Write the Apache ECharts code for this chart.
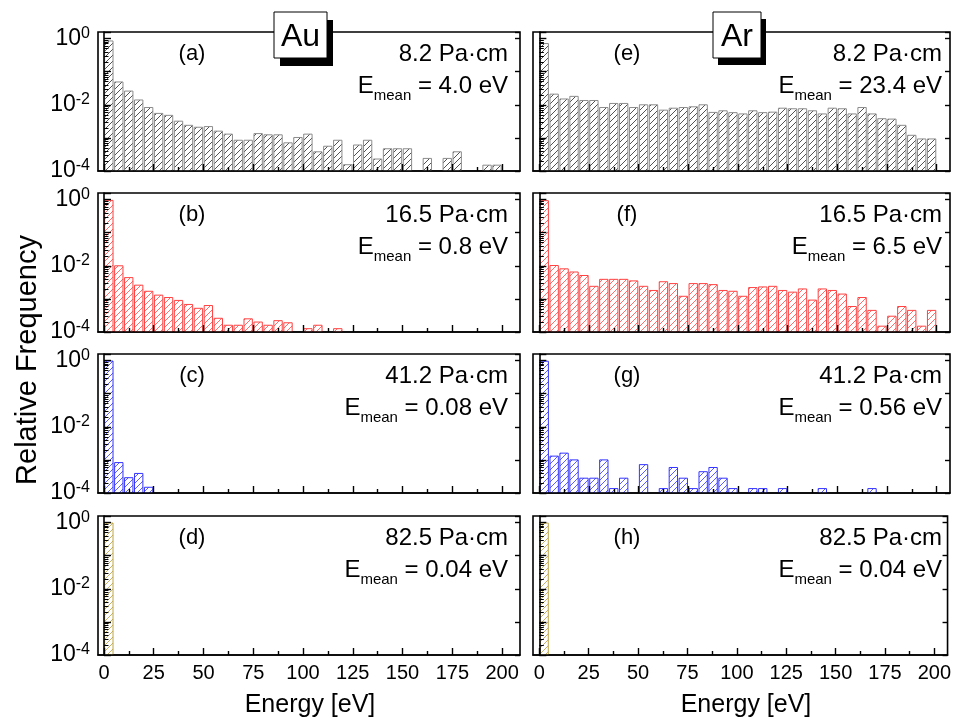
<!DOCTYPE html>
<html><head><meta charset="utf-8">
<script src="https://cdn.jsdelivr.net/npm/echarts@6/dist/echarts.min.js"></script>
<style>html,body{margin:0;padding:0;background:#fff}#c{width:954px;height:719px}</style>
</head><body><div id="c"></div>
<script>
// ---------------- data ----------------
const BIN_WIDTH = 5; // eV per histogram bin (bins start at 0)
const X_TICKS = [0, 25, 50, 75, 100, 125, 150, 175, 200];
const X_MINOR_TICKS = [12.5, 37.5, 62.5, 87.5, 112.5, 137.5, 162.5, 187.5];
const Y_LABEL_EXPONENTS = [0, -2, -4];
const Y_MINOR_TICKS = [2e-4,3e-4,4e-4,5e-4,6e-4,7e-4,8e-4,9e-4, 2e-3,3e-3,4e-3,5e-3,6e-3,7e-3,8e-3,9e-3, 2e-2,3e-2,4e-2,5e-2,6e-2,7e-2,8e-2,9e-2, 0.2,0.3,0.4,0.5,0.6,0.7,0.8,0.9];

const PANEL_TAGS = ['(a)', '(b)', '(c)', '(d)', '(e)', '(f)', '(g)', '(h)'];
const PRESSURES = ['8.2', '16.5', '41.2', '82.5'];
const EMEAN_AU = ['4.0', '0.8', '0.08', '0.04'];
const EMEAN_AR = ['23.4', '6.5', '0.56', '0.04'];
const COLUMN_TITLES = ['Au', 'Ar'];

// Au (left column)
const AU_8_2 = [0.85, 0.049, 0.026, 0.014, 0.0083, 0.0055, 0.0048, 0.0032, 0.0024, 0.0021,
  0.0022, 0.0016, 0.0013, 0.00085, 0.00085, 0.00135, 0.00124, 0.00124, 0.00071, 0.00103,
  0.0013, 0.00038, 0.00056, 0.00085, 0.000155, 0.00061, 0.00085, 0.00023, 0.00047, 0.00047,
  0.00047, 0, 0.00024, 0, 0.00024, 0.00038, 0, 0, 0.00015, 0.00015];
const AU_16_5 = [0.95, 0.010, 0.0044, 0.0026, 0.0017, 0.0013, 0.0011, 0.0009, 0.00068, 0.00052,
  0.00063, 0.00026, 0.00016, 0.00016, 0.00025, 0.0002, 0.00016, 0.00022, 0.00019, 0,
  0.000126, 0.00016, 0, 0.000126];
const AU_41_2 = [0.97, 0.00083, 0.00029, 0.00039, 0.000149];
const AU_82_5 = [0.97];
// Ar (right column)
const AR_8_2 = [0.71, 0.021, 0.015, 0.018, 0.0135, 0.0135, 0.0083, 0.011, 0.011, 0.0083,
  0.010, 0.010, 0.0069, 0.0079, 0.0083, 0.0087, 0.010, 0.0059, 0.0066, 0.0058,
  0.0053, 0.0066, 0.0058, 0.0060, 0.0079, 0.0076, 0.0076, 0.0066, 0.0053, 0.0079,
  0.0076, 0.0053, 0.0083, 0.0053, 0.0038, 0.0037, 0.0024, 0.0012, 0.00093, 0.00093];
const AR_16_5 = [0.93, 0.0102, 0.0081, 0.0065, 0.0051, 0.0024, 0.0039, 0.0039, 0.0039, 0.0035,
  0.0024, 0.0018, 0.0033, 0.0029, 0.0012, 0.0029, 0.0029, 0.0027, 0.0018, 0.0017,
  0.0012, 0.0022, 0.0023, 0.0024, 0.0018, 0.0016, 0.002, 0.00092, 0.002, 0.0018,
  0.0014, 0.00059, 0.0011, 0.00045, 0.00015, 0.0003, 0.00059, 0.00045, 0.00015, 0.00045];
const AR_41_2 = [0.96, 0.0013, 0.0016, 0.001, 0.00028, 0.00028, 0.001, 0.000136, 0.00028, 0,
  0.00072, 0, 0.000136, 0.00059, 0.00028, 0.000136, 0.00044, 0.00059, 0.00028, 0.000136,
  0, 0.000136, 0.000136, 0, 0.000136, 0, 0, 0, 0.000136, 0,
  0, 0, 0, 0.000136];
const AR_82_5 = [0.97];

// ---------------- layout / style ----------------
const FONT = '"Liberation Sans", Arial, Helvetica, sans-serif';
const YMIN_EXP = -4, YMAX_EXP = 0.2;
const YMIN = Math.pow(10, YMIN_EXP), YMAX = Math.pow(10, YMAX_EXP);
const COL_LEFT = [98, 533], COL_WIDTH = [422, 417];
const X_RANGE = [[-3, 209], [-3.2, 206.7]];
const ROW_TOP = [32, 193, 354, 516], ROW_H = 139;
const ROW_STYLE = [
  {stroke: '#8c8c8c', hatch: '#3e3e3e'},
  {stroke: '#ff4040', hatch: '#ff5a5a'},
  {stroke: '#3434ff', hatch: '#4848ff'},
  {stroke: '#bfa64a', hatch: '#c2aa52'}
];
const BAR_START = 0.35, BAR_END = 4.55;

const PANELS = [
  {col: 0, row: 0, values: AU_8_2}, {col: 0, row: 1, values: AU_16_5},
  {col: 0, row: 2, values: AU_41_2}, {col: 0, row: 3, values: AU_82_5},
  {col: 1, row: 0, values: AR_8_2}, {col: 1, row: 1, values: AR_16_5},
  {col: 1, row: 2, values: AR_41_2}, {col: 1, row: 3, values: AR_82_5}
];

function hatch(color) {
  const s = 6;
  const c = document.createElement('canvas'); c.width = s; c.height = s;
  const ctx = c.getContext('2d');
  ctx.fillStyle = '#fff'; ctx.fillRect(0, 0, s, s);
  ctx.strokeStyle = color; ctx.lineWidth = 0.9;
  ctx.beginPath();
  ctx.moveTo(-1, s + 1); ctx.lineTo(s + 1, -1);
  ctx.moveTo(-1, 1); ctx.lineTo(1, -1);
  ctx.moveTo(s - 1, s + 1); ctx.lineTo(s + 1, s - 1);
  ctx.stroke();
  return c;
}

function yLabel(v) {
  const e = Math.log10(v), r = Math.round(e);
  if (Math.abs(e - r) > 1e-6 || Y_LABEL_EXPONENTS.indexOf(r) < 0) return '';
  return '{b|10}{s|' + r + '}';
}

const grids = [], xAxes = [], yAxes = [], series = [], graphics = [];
PANELS.forEach((p, g) => {
  const left = COL_LEFT[p.col], top = ROW_TOP[p.row], width = COL_WIDTH[p.col];
  const xr = X_RANGE[p.col];
  const st = ROW_STYLE[p.row];
  const pat = hatch(st.hatch);
  grids.push({left, top, width, height: ROW_H, show: true, borderColor: '#000', borderWidth: 1.6, backgroundColor: 'transparent', containLabel: false});
  const tickLine = {color: '#000', width: 1.4};
  xAxes.push({gridIndex: g, type: 'value', position: 'bottom', min: xr[0], max: xr[1], z: 5,
    axisLine: {show: true, onZero: false, lineStyle: {color: '#000', width: 1.6}},
    axisTick: {show: true, inside: true, length: 7, customValues: X_TICKS, lineStyle: tickLine},
    axisLabel: {show: p.row === 3, customValues: X_TICKS, margin: 8, color: '#000', fontSize: 20, fontFamily: FONT},
    splitLine: {show: false}});
  xAxes.push({gridIndex: g, type: 'value', position: 'bottom', min: xr[0], max: xr[1], z: 5,
    axisLine: {show: false, onZero: false},
    axisTick: {show: true, inside: true, length: 4, customValues: X_MINOR_TICKS, lineStyle: tickLine},
    axisLabel: {show: false}, splitLine: {show: false}});
  yAxes.push({gridIndex: g, type: 'log', logBase: 10, min: YMIN, max: YMAX, position: 'left', z: 5,
    axisLine: {show: true, lineStyle: {color: '#000', width: 1.6}},
    axisTick: {show: true, inside: true, length: 7, lineStyle: tickLine},
    axisLabel: {show: p.col === 0, margin: 8, formatter: yLabel,
      rich: {b: {fontSize: 23, fontFamily: FONT, color: '#000', lineHeight: 27},
             s: {fontSize: 16, fontFamily: FONT, color: '#000', verticalAlign: 'top'}}},
    splitLine: {show: false}, minorTick: {show: false}});
  // minor decade ticks (2..9 x 10^n), placed in exponent space on a tick-only axis
  yAxes.push({gridIndex: g, type: 'value', min: YMIN_EXP, max: YMAX_EXP, position: 'left', z: 5,
    axisLine: {show: false},
    axisTick: {show: true, inside: true, length: 4.5, customValues: Y_MINOR_TICKS.map(v => Math.log10(v)), lineStyle: {color: '#000', width: 1}},
    axisLabel: {show: false}, splitLine: {show: false}});
  yAxes.push({gridIndex: g, type: 'log', logBase: 10, min: YMIN, max: YMAX, position: 'right', z: 5,
    axisLine: {show: false},
    axisTick: {show: true, inside: true, length: 5, lineStyle: tickLine},
    axisLabel: {show: false}, splitLine: {show: false}});
  series.push({type: 'custom', xAxisIndex: 2 * g, yAxisIndex: 3 * g, silent: true, clip: true, z: 1,
    data: p.values.map((v, i) => [i, v]).filter(d => d[1] > 0),
    renderItem: (params, api) => {
      const bin = api.value(0), v = api.value(1);
      const a = api.coord([bin * BIN_WIDTH + BAR_START, v]);
      const b = api.coord([bin * BIN_WIDTH + BAR_END, YMIN]);
      return {type: 'rect', shape: {x: a[0], y: a[1], width: b[0] - a[0], height: b[1] - a[1]},
        style: {fill: {image: pat, repeat: 'repeat'}, stroke: st.stroke, lineWidth: 1}};
    }});
  // panel texts
  const right = p.col === 0 ? left + width - 12 : left + width - 8;
  graphics.push({type: 'text', x: left + 94, y: top + 22, z: 50,
    style: {text: PANEL_TAGS[g], font: '22px ' + FONT, fill: '#000', align: 'center', verticalAlign: 'middle'}});
  graphics.push({type: 'text', x: right, y: top + 22, z: 50,
    style: {text: PRESSURES[p.row] + ' Pa\u00b7cm', font: '24px ' + FONT, fill: '#000', align: 'right', verticalAlign: 'middle'}});
  const em = (p.col === 0 ? EMEAN_AU : EMEAN_AR)[p.row];
  graphics.push({type: 'text', x: right, y: top + 54, z: 50,
    style: {text: '{e|E}{s|mean}{e| = ' + em + ' eV}', align: 'right', verticalAlign: 'middle', fill: '#000', font: '24px ' + FONT,
      rich: {e: {fontSize: 24, fontFamily: FONT, fill: '#000', lineHeight: 34},
             s: {fontSize: 15, fontFamily: FONT, fill: '#000', verticalAlign: 'bottom'}}}});
});

// column title boxes
[[274, 12, 53, 46, 6, 8], [713, 12, 48, 46, 5, 7]].forEach((b, i) => {
  graphics.push({type: 'rect', z: 90, shape: {x: b[0] + b[4], y: b[1] + b[5], width: b[2], height: b[3]}, style: {fill: '#000'}});
  graphics.push({type: 'rect', z: 91, shape: {x: b[0], y: b[1], width: b[2], height: b[3]}, style: {fill: '#fff', stroke: '#000', lineWidth: 1}});
  graphics.push({type: 'text', z: 92, x: b[0] + b[2] / 2, y: b[1] + 25,
    style: {text: COLUMN_TITLES[i], font: '32px ' + FONT, fill: '#000', align: 'center', verticalAlign: 'middle'}});
});
graphics.push({type: 'text', x: 28, y: 360, rotation: Math.PI / 2,
  style: {text: 'Relative Frequency', font: '29px ' + FONT, fill: '#000', align: 'center', verticalAlign: 'middle'}});
graphics.push({type: 'text', x: 310, y: 705,
  style: {text: 'Energy [eV]', font: '25px ' + FONT, fill: '#000', align: 'center', verticalAlign: 'middle'}});
graphics.push({type: 'text', x: 746, y: 705,
  style: {text: 'Energy [eV]', font: '25px ' + FONT, fill: '#000', align: 'center', verticalAlign: 'middle'}});

const chart = echarts.init(document.getElementById('c'), null, {renderer: 'canvas'});
chart.setOption({
  animation: false,
  backgroundColor: '#fff',
  grid: grids, xAxis: xAxes, yAxis: yAxes, series: series,
  graphic: {elements: graphics}
});
</script></body></html>
